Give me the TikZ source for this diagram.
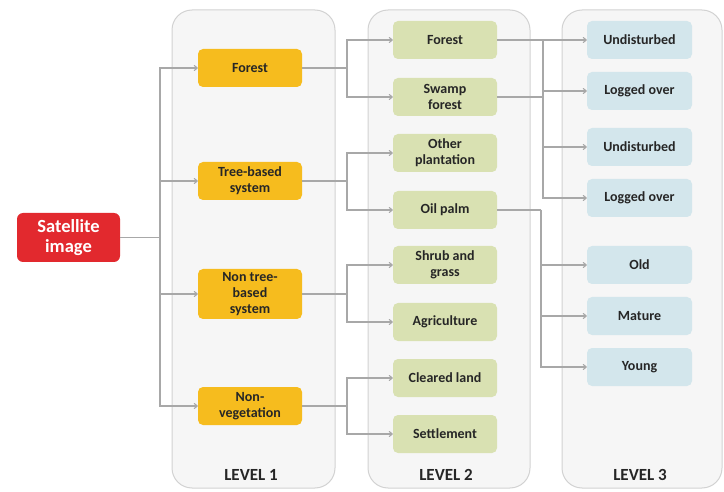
\documentclass[tikz,border=0pt]{standalone}
\usepackage{fontspec}
\setmainfont{Carlito}
\usetikzlibrary{arrows.meta}
\definecolor{panelfill}{HTML}{F6F6F6}
\definecolor{paneldraw}{HTML}{D2D2D2}
\definecolor{lone}{HTML}{F6BC1E}
\definecolor{ltwo}{HTML}{D9E1B2}
\definecolor{lthree}{HTML}{D3E6EC}
\definecolor{satred}{HTML}{E2292E}
\definecolor{linegray}{HTML}{A8A8A8}
\definecolor{txt}{HTML}{262626}
\tikzset{
  panel/.style={draw=paneldraw, fill=panelfill, line width=1pt, rounded corners=20pt},
  boxbase/.style={rounded corners=5pt, minimum height=38pt, align=center, text=txt,
    font=\fontsize{14}{16}\selectfont\bfseries, inner sep=1pt},
  lonebox/.style={boxbase, fill=lone, minimum width=104pt},
  ltwobox/.style={boxbase, fill=ltwo, minimum width=104pt},
  lthreebox/.style={boxbase, fill=lthree, minimum width=105pt},
  satbox/.style={rounded corners=6pt, fill=satred, text=white, minimum width=103pt, minimum height=49pt,
    align=center, font=\fontsize{18.5}{20}\selectfont\bfseries, inner sep=1pt},
  lvl/.style={text=txt, font=\fontsize{17}{18}\selectfont\bfseries},
  conn/.style={draw=linegray, line width=1.1pt},
  arr/.style={conn, -{To[length=4pt,width=6pt]}}
}
\begin{document}
\begin{tikzpicture}[x=1pt,y=-1pt]
\useasboundingbox (0,0) rectangle (724,492);
% panels
\node[panel, minimum width=163pt, minimum height=478pt] (p1) at (253.5,249) {};
\node[panel, minimum width=162pt, minimum height=478pt] (p2) at (449,249) {};
\node[panel, minimum width=160pt, minimum height=478pt] (p3) at (642,249) {};
\node[lvl] (t1) at (251,475) {LEVEL 1};
\node[lvl] (t2) at (446,475) {LEVEL 2};
\node[lvl] (t3) at (640,475) {LEVEL 3};
% satellite
\node[satbox] (sat) at (68.5,237.5) {Satellite\\image};
% level 1
\node[lonebox] (a1) at (250,68) {Forest};
\node[lonebox] (a2) at (250,181) {Tree-based\\system};
\node[lonebox, minimum height=50pt] (a3) at (250,294) {Non tree-\\based\\system};
\node[lonebox] (a4) at (250,406) {Non-\\vegetation};
% level 2
\node[ltwobox] (b1) at (445,40) {Forest};
\node[ltwobox] (b2) at (445,97) {Swamp\\forest};
\node[ltwobox] (b3) at (445,153) {Other\\plantation};
\node[ltwobox] (b4) at (445,210) {Oil palm};
\node[ltwobox] (b5) at (445,265) {Shrub and\\grass};
\node[ltwobox] (b6) at (445,322) {Agriculture};
\node[ltwobox] (b7) at (445,378) {Cleared land};
\node[ltwobox] (b8) at (445,434) {Settlement};
% level 3
\node[lthreebox] (c1) at (639.5,40) {Undisturbed};
\node[lthreebox] (c2) at (639.5,91) {Logged over};
\node[lthreebox] (c3) at (639.5,147) {Undisturbed};
\node[lthreebox] (c4) at (639.5,198) {Logged over};
\node[lthreebox] (c5) at (639.5,265) {Old};
\node[lthreebox] (c6) at (639.5,316) {Mature};
\node[lthreebox] (c7) at (639.5,367) {Young};
% satellite -> level 1
\coordinate (s0) at (160,237.5);
\draw[conn] (sat) -- (s0);
\foreach \n in {a1,a2,a3,a4} \draw[arr] (s0) |- (\n);
% level 1 -> level 2
\coordinate (k1) at (347,68);
\coordinate (k2) at (347,181);
\coordinate (k3) at (347,294);
\coordinate (k4) at (347,406);
\draw[conn] (a1) -- (k1);
\draw[conn] (a2) -- (k2);
\draw[conn] (a3) -- (k3);
\draw[conn] (a4) -- (k4);
\draw[arr] (k1) |- (b1); \draw[arr] (k1) |- (b2);
\draw[arr] (k2) |- (b3); \draw[arr] (k2) |- (b4);
\draw[arr] (k3) |- (b5); \draw[arr] (k3) |- (b6);
\draw[arr] (k4) |- (b7); \draw[arr] (k4) |- (b8);
% level 2 -> level 3
\coordinate (m1) at (543,40);
\coordinate (m2) at (543,97);
\coordinate (m4) at (543,198);
\draw[conn] (b2) -- (m2);
\draw[conn] (m1) -- (m4);
\draw[arr] (b1) -- (c1);
\draw[arr] (m1) |- (c2);
\draw[arr] (m1) |- (c3);
\draw[arr] (m1) |- (c4);
\coordinate (n1) at (541,210);
\draw[conn] (b4) -- (n1);
\draw[arr] (n1) |- (c5);
\draw[arr] (n1) |- (c6);
\draw[arr] (n1) |- (c7);
\end{tikzpicture}
\end{document}
